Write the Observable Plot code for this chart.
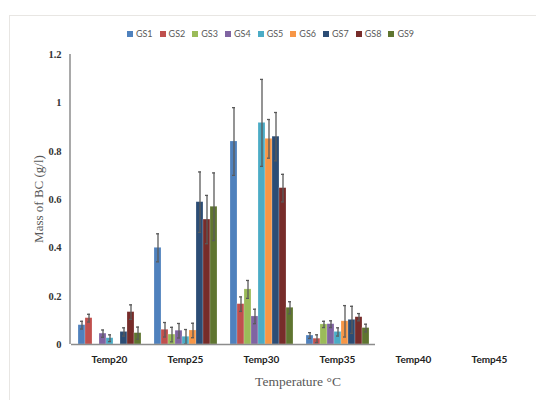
<!DOCTYPE html>
<html>
<head>
<meta charset="utf-8">
<script src="https://cdn.jsdelivr.net/npm/d3@7"></script>
<script src="https://cdn.jsdelivr.net/npm/@observablehq/plot@0.6"></script>
<style>
  body { margin: 0; background: #fff; }
  #wrap { position: relative; width: 536px; height: 400px; overflow: hidden; }
  #border { position: absolute; left: 9px; top: 15px; width: 600px; height: 600px; border: 1px solid #e8e6e3; box-sizing: border-box; }
  #legend { position: absolute; top: 28px; left: 0; width: 536px; display: flex; justify-content: center; padding-left: 12px; box-sizing: border-box;
            font-family: "Lato", "Liberation Sans", sans-serif; font-size: 9px; color: #595959; }
  .item { display: flex; align-items: center; margin-right: 7px; }
  .sw { width: 6px; height: 6px; margin-right: 3px; }
  #chart { position: absolute; left: 0; top: 0; }
</style>
</head>
<body>
<div id="wrap">
  <div id="border"></div>
  <div id="chart"></div>
  <div id="legend"></div>
</div>
<script>
const temps = ["Temp20", "Temp25", "Temp30", "Temp35", "Temp40", "Temp45"];
const series = ["GS1", "GS2", "GS3", "GS4", "GS5", "GS6", "GS7", "GS8", "GS9"];
const colors = ["#4F81BD", "#C0504D", "#9BBB59", "#8064A2", "#4BACC6", "#F79646", "#2C4D75", "#772C2A", "#5F7530"];
const yTicks = [0, 0.2, 0.4, 0.6, 0.8, 1, 1.2];

const GS1 = [0.080, 0.400, 0.840, 0.037, 0, 0];
const GS2 = [0.109, 0.061, 0.167, 0.024, 0, 0];
const GS3 = [0.000, 0.041, 0.228, 0.083, 0, 0];
const GS4 = [0.045, 0.057, 0.116, 0.084, 0, 0];
const GS5 = [0.026, 0.032, 0.917, 0.052, 0, 0];
const GS6 = [0.000, 0.058, 0.851, 0.096, 0, 0];
const GS7 = [0.052, 0.589, 0.860, 0.102, 0, 0];
const GS8 = [0.134, 0.517, 0.647, 0.113, 0, 0];
const GS9 = [0.047, 0.570, 0.152, 0.068, 0, 0];

const errGS1 = [0.016, 0.058, 0.140, 0.012, 0, 0];
const errGS2 = [0.016, 0.030, 0.030, 0.016, 0, 0];
const errGS3 = [0.000, 0.030, 0.037, 0.013, 0, 0];
const errGS4 = [0.015, 0.030, 0.030, 0.014, 0, 0];
const errGS5 = [0.014, 0.030, 0.180, 0.017, 0, 0];
const errGS6 = [0.000, 0.030, 0.080, 0.065, 0, 0];
const errGS7 = [0.017, 0.125, 0.100, 0.056, 0, 0];
const errGS8 = [0.030, 0.100, 0.057, 0.015, 0, 0];
const errGS9 = [0.025, 0.140, 0.025, 0.016, 0, 0];

const values = [GS1, GS2, GS3, GS4, GS5, GS6, GS7, GS8, GS9];
const errors = [errGS1, errGS2, errGS3, errGS4, errGS5, errGS6, errGS7, errGS8, errGS9];

const data = [];
temps.forEach((t, ti) => series.forEach((s, si) => {
  data.push({temp: t, gs: s, v: values[si][ti], e: errors[si][ti]});
}));
const nonzero = data.filter(d => d.v > 0);

const marginLeft = 70;

const chart = Plot.plot({
  width: 536,
  height: 400,
  marginLeft,
  marginRight: 9,
  marginTop: 54,
  marginBottom: 56,
  style: {background: "transparent", overflow: "visible"},
  fx: {domain: temps, paddingInner: 0, paddingOuter: 0, label: null},
  x: {domain: series, paddingInner: 0, paddingOuter: 0.33, axis: null},
  y: {domain: [0, 1.2]},
  color: {domain: series, range: colors},
  marks: [
    Plot.barY(nonzero, {fx: "temp", x: "gs", y: "v", fill: "gs", stroke: "white", strokeOpacity: 0.35, strokeWidth: 0.6}),
    Plot.ruleX(nonzero, {fx: "temp", x: "gs", y1: d => d.v - d.e, y2: d => d.v + d.e, stroke: "#5a5a5a", strokeWidth: 1.3}),
    Plot.tickY(nonzero, {fx: "temp", x: "gs", y: d => d.v + d.e, stroke: "#5a5a5a", strokeWidth: 1.3, insetLeft: 2, insetRight: 2}),
    Plot.tickY(nonzero, {fx: "temp", x: "gs", y: d => d.v - d.e, stroke: "#5a5a5a", strokeWidth: 1.3, insetLeft: 2, insetRight: 2}),
    Plot.ruleY([0], {stroke: "#8c8c8c", strokeWidth: 1.5}),
    Plot.axisY({ticks: yTicks, tickFormat: d => String(d), tickSize: 0, tickPadding: 10,
      label: null, fontFamily: "Liberation Serif, serif", fontWeight: "bold", fontSize: 10.5, fill: "#333"}),
    Plot.axisFx({anchor: "bottom", tickSize: 0, tickPadding: 11, label: null,
      fontFamily: "Lato, Liberation Sans, sans-serif", fontWeight: "bold", fontSize: 10, fill: "#222"})
  ]
});

const svg = d3.select(chart);
const yScale = chart.scale("y");
// y axis line drawn from the y scale's extent
svg.append("line")
  .attr("x1", marginLeft).attr("x2", marginLeft)
  .attr("y1", yScale.apply(yTicks[0])).attr("y2", yScale.apply(yTicks[yTicks.length - 1]))
  .attr("stroke", "#8c8c8c").attr("stroke-width", 1.5);

svg.append("text")
  .attr("transform", "translate(40,199) rotate(-90)")
  .attr("text-anchor", "middle")
  .attr("dominant-baseline", "middle")
  .attr("font-family", "Liberation Serif, serif")
  .attr("font-size", 13)
  .attr("fill", "#595959")
  .text("Mass of BC (g/l)");
svg.append("text")
  .attr("x", 298).attr("y", 383)
  .attr("text-anchor", "middle")
  .attr("dominant-baseline", "middle")
  .attr("font-family", "Liberation Serif, serif")
  .attr("font-size", 13.5)
  .attr("fill", "#595959")
  .text("Temperature °C");

document.getElementById("chart").append(chart);

const legend = document.getElementById("legend");
series.forEach((s, i) => {
  const it = document.createElement("div");
  it.className = "item";
  const sw = document.createElement("div");
  sw.className = "sw";
  sw.style.background = colors[i];
  const lb = document.createElement("span");
  lb.textContent = s;
  it.append(sw, lb);
  legend.append(it);
});
</script>
</body>
</html>
